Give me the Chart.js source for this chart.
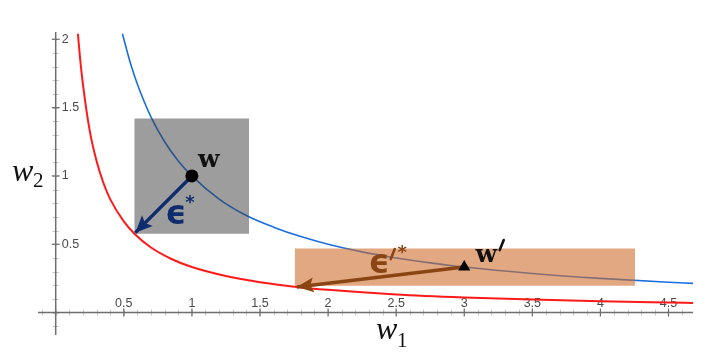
<!DOCTYPE html>
<html>
<head>
<meta charset="utf-8">
<script src="https://cdn.jsdelivr.net/npm/chart.js@4.4.0/dist/chart.umd.min.js"></script>
<style>
  html, body { margin: 0; padding: 0; background: #fff; }
  #wrap { width: 706px; height: 360px; }
</style>
</head>
<body>
<div id="wrap"><canvas id="myChart"></canvas></div>
<script>
// Curve w1*w2 = 1 (blue)
var blueX = [0.49, 0.55, 0.6, 0.7, 0.8, 0.9, 1, 1.2, 1.4, 1.6, 1.8, 2, 2.25, 2.5, 2.75, 3, 3.5, 4, 4.5, 4.68];
var blueY = [2.04, 1.82, 1.67, 1.43, 1.25, 1.11, 1, 0.83, 0.71, 0.625, 0.556, 0.5, 0.444, 0.4, 0.364, 0.333, 0.286, 0.25, 0.222, 0.214];
// Lower curve (red)
var redX = [0.163, 0.18, 0.2, 0.25, 0.3, 0.35, 0.4, 0.5, 0.58, 0.7, 0.85, 1, 1.25, 1.5, 1.77, 2, 2.5, 3, 3.5, 4, 4.5, 4.68];
var redY = [2.04, 1.85, 1.67, 1.33, 1.11, 0.95, 0.83, 0.667, 0.575, 0.476, 0.392, 0.333, 0.267, 0.222, 0.188, 0.167, 0.133, 0.111, 0.095, 0.083, 0.074, 0.071];

// points w and w'
var ptW = [1, 1];
var ptW2 = [3, 0.333];
// arrow tips
var tipE = [0.585, 0.585];
var tipE2 = [1.77, 0.188];
// boxes [xmin, xmax, ymin, ymax]
var boxGray = [0.577, 1.42, 0.577, 1.42];
var boxOrange = [1.755, 4.255, 0.197, 0.468];

var xTicks = [0.5, 1, 1.5, 2, 2.5, 3, 3.5, 4, 4.5];
var yTicks = [0.5, 1, 1.5, 2];

function pairs(xs, ys) {
  var out = [];
  for (var i = 0; i < xs.length; i++) out.push({x: xs[i], y: ys[i]});
  return out;
}

// draws a short slanted prime stroke
function prime(c, x, y, color) {
  c.save();
  c.strokeStyle = color;
  c.lineWidth = 2.6;
  c.lineCap = 'round';
  c.beginPath();
  c.moveTo(x + 2.5, y - 5);
  c.lineTo(x - 1.5, y + 5);
  c.stroke();
  c.restore();
}

var axesPlugin = {
  id: 'axes',
  beforeDatasetsDraw: function(chart) {
    var c = chart.ctx, xs = chart.scales.x, ys = chart.scales.y;
    var x0 = xs.getPixelForValue(0), y0 = ys.getPixelForValue(0);
    c.save();
    // minor ticks
    c.strokeStyle = '#c4c4c4';
    c.lineWidth = 1;
    for (var i = -1; i <= 46; i++) {
      var px = Math.round(xs.getPixelForValue(i / 10)) + 0.5;
      c.beginPath(); c.moveTo(px, y0 - 3); c.lineTo(px, y0 + 3); c.stroke();
    }
    for (var j = -1; j <= 20; j++) {
      var py = Math.round(ys.getPixelForValue(j / 10)) + 0.5;
      c.beginPath(); c.moveTo(x0 - 3, py); c.lineTo(x0 + 3, py); c.stroke();
    }
    // axis lines
    c.strokeStyle = '#6e6e6e';
    c.lineWidth = 1.5;
    c.beginPath();
    c.moveTo(chart.chartArea.left, y0); c.lineTo(chart.chartArea.right, y0);
    c.moveTo(x0, chart.chartArea.top); c.lineTo(x0, chart.chartArea.bottom);
    c.stroke();
    // major ticks + labels
    c.lineWidth = 1.2;
    c.fillStyle = '#4a4a4a';
    c.font = '12.5px "Liberation Sans", Arial, sans-serif';
    c.textAlign = 'center';
    c.textBaseline = 'alphabetic';
    xTicks.forEach(function(v) {
      var px = xs.getPixelForValue(v);
      c.beginPath(); c.moveTo(px, y0 - 4); c.lineTo(px, y0 + 4); c.stroke();
      c.fillText(String(v), px, y0 - 6);
    });
    c.textAlign = 'left';
    c.textBaseline = 'middle';
    yTicks.forEach(function(v) {
      var py = ys.getPixelForValue(v);
      c.beginPath(); c.moveTo(x0 - 4, py); c.lineTo(x0 + 4, py); c.stroke();
      c.fillText(String(v), x0 + 6, py);
    });
    c.restore();
  },
  afterDatasetDraw: function(chart, args) {
    var ds = chart.data.datasets[args.index];
    if (!ds.arrowHead) return;
    var pts = args.meta.data;
    var a = pts[0], b = pts[pts.length - 1];
    var ang = Math.atan2(b.y - a.y, b.x - a.x);
    var len = 17, half = 7.5;
    var c = chart.ctx;
    c.save();
    c.fillStyle = ds.borderColor;
    c.translate(b.x, b.y);
    c.rotate(ang);
    c.beginPath();
    c.moveTo(0, 0);
    c.lineTo(-len, -half);
    c.lineTo(-len * 0.8, 0);
    c.lineTo(-len, half);
    c.closePath();
    c.fill();
    c.restore();
  },
  afterDatasetsDraw: function(chart) {
    var c = chart.ctx, xs = chart.scales.x, ys = chart.scales.y;
    var wx = xs.getPixelForValue(ptW[0]), wy = ys.getPixelForValue(ptW[1]);
    var vx = xs.getPixelForValue(ptW2[0]), vy = ys.getPixelForValue(ptW2[1]);
    c.save();
    c.textAlign = 'center';
    c.textBaseline = 'middle';
    c.fillStyle = '#111';
    c.font = 'bold 25px "DejaVu Serif", serif';
    c.fillText('w', wx + 17, wy - 15);
    c.fillText('w', vx + 22, vy - 12);
    prime(c, vx + 37, vy - 22, '#111');
    // epsilon labels
    c.fillStyle = '#0f2d6e';
    c.font = 'bold 33px "DejaVu Sans", sans-serif';
    c.fillText('\u03f5', wx - 16, wy + 40);
    c.font = 'bold 18px "DejaVu Sans", sans-serif';
    c.fillText('*', wx - 2, wy + 27);
    c.fillStyle = '#8a4513';
    c.font = 'bold 33px "DejaVu Sans", sans-serif';
    c.fillText('\u03f5', vx - 85, vy - 3);
    prime(c, vx - 72, vy - 13, '#8a4513');
    c.font = 'bold 18px "DejaVu Sans", sans-serif';
    c.fillText('*', vx - 62, vy - 14);
    // axis titles
    c.fillStyle = '#111';
    c.textAlign = 'left';
    c.textBaseline = 'alphabetic';
    c.font = 'italic 32px "Liberation Serif", serif';
    c.fillText('w', 376, 339);
    c.fillText('w', 12, 181);
    c.font = '21px "Liberation Serif", serif';
    c.fillText('1', 397, 347);
    c.fillText('2', 33, 187);
    c.restore();
  }
};

var ctx = document.getElementById('myChart');
var myChart = new Chart(ctx, {
  type: 'scatter',
  data: {
    datasets: [
      {
        label: 'w',
        data: [{x: ptW[0], y: ptW[1]}],
        pointStyle: 'circle',
        pointRadius: 6.5,
        backgroundColor: '#000',
        borderColor: '#000',
        borderWidth: 0
      },
      {
        label: "w'",
        data: [{x: ptW2[0], y: ptW2[1]}],
        pointStyle: 'triangle',
        pointRadius: 7,
        backgroundColor: '#000',
        borderColor: '#000',
        borderWidth: 0
      },
      {
        label: 'eps',
        data: [{x: ptW[0], y: ptW[1]}, {x: tipE[0], y: tipE[1]}],
        showLine: true,
        arrowHead: true,
        borderColor: '#0f2d6e',
        borderWidth: 3.5,
        pointRadius: 0
      },
      {
        label: "eps'",
        data: [{x: ptW2[0], y: ptW2[1]}, {x: tipE2[0], y: tipE2[1]}],
        showLine: true,
        arrowHead: true,
        borderColor: '#8a4513',
        borderWidth: 3.5,
        pointRadius: 0
      },
      {
        label: 'gray box',
        data: [{x: boxGray[0], y: boxGray[3]}, {x: boxGray[1], y: boxGray[3]}],
        showLine: true,
        borderWidth: 0,
        pointRadius: 0,
        backgroundColor: 'rgba(60,60,60,0.5)',
        fill: {value: boxGray[2]}
      },
      {
        label: 'orange box',
        data: [{x: boxOrange[0], y: boxOrange[3]}, {x: boxOrange[1], y: boxOrange[3]}],
        showLine: true,
        borderWidth: 0,
        pointRadius: 0,
        backgroundColor: 'rgba(205,110,45,0.6)',
        fill: {value: boxOrange[2]}
      },
      {
        label: 'red',
        data: pairs(redX, redY),
        showLine: true,
        borderColor: '#ff1a1a',
        borderWidth: 2,
        pointRadius: 0,
        cubicInterpolationMode: 'monotone'
      },
      {
        label: 'blue',
        data: pairs(blueX, blueY),
        showLine: true,
        borderColor: '#1a6fe0',
        borderWidth: 1.6,
        pointRadius: 0,
        cubicInterpolationMode: 'monotone'
      }
    ]
  },
  options: {
    responsive: true,
    maintainAspectRatio: false,
    animation: false,
    layout: { padding: { left: 38, right: 13, top: 32, bottom: 25 } },
    plugins: {
      legend: { display: false },
      tooltip: { enabled: false },
      filler: { propagate: false }
    },
    scales: {
      x: { type: 'linear', min: -0.13, max: 4.68, display: false },
      y: { type: 'linear', min: -0.164, max: 2.053, display: false }
    }
  },
  plugins: [axesPlugin]
});
</script>
</body>
</html>
